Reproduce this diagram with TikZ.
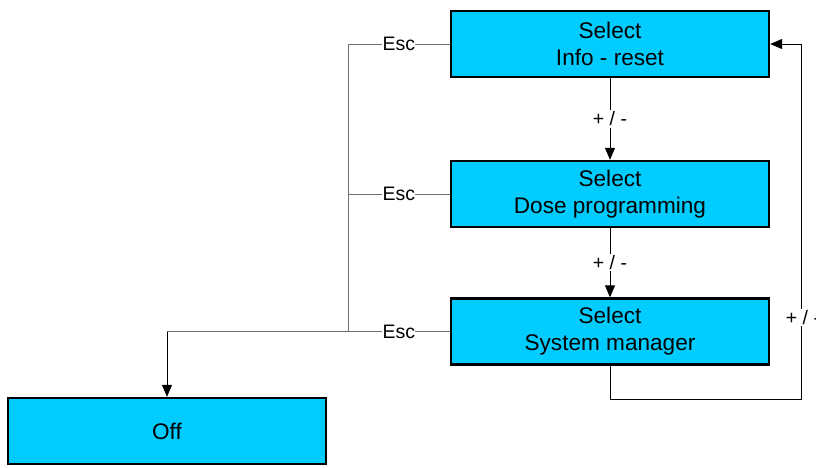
\documentclass[tikz,border=0pt]{standalone}
\usepackage{fontspec}
\setmainfont{Liberation Sans}
\usetikzlibrary{arrows.meta}
\definecolor{boxcyan}{HTML}{00CCFF}
\definecolor{linegray}{HTML}{707070}
\begin{document}
\begin{tikzpicture}[x=1pt,y=-1pt,
  box/.style={draw=black,line width=2.4pt,fill=boxcyan,minimum width=318pt,minimum height=66pt,
    align=center,inner sep=0pt,font=\fontsize{22.6}{27}\selectfont},
  lbl/.style={fill=white,inner sep=1.5pt,font=\fontsize{19.5}{22}\selectfont},
  esclbl/.style={fill=white,inner xsep=0.3pt,inner ysep=1.5pt,font=\fontsize{19.5}{22}\selectfont},
  conn/.style={draw=black,line width=1pt},
  esc/.style={draw=linegray,line width=1pt},
  arr/.style={-{Triangle[length=12pt,width=10pt]}}]
\useasboundingbox (0,0) rectangle (816,467);
\node[box] (info) at (610,44) {Select\\Info - reset};
\node[box] (dose) at (610,194) {Select\\Dose programming};
\node[box] (sys) at (610,331.5) {Select\\System manager};
\node[box] (off) at (167,431) {Off};
% + / - arrows
\draw[conn,arr] (info.south) -- node[lbl,pos=0.5]{+ / -} (dose.north);
\draw[conn,arr] (dose.south) -- node[lbl,pos=0.5]{+ / -} (sys.north);
% loop back
\coordinate (l1) at (610,399);
\coordinate (l2) at (801,399);
\coordinate (l3) at (801,44);
\draw[conn,arr] (sys.south) -- (l1) -- (l2) -- node[lbl,pos=0.23,xshift=2pt]{+ / -} (l3) -- (info.east);
% Esc lines
\coordinate (e1) at (348,44);
\coordinate (e2) at (348,194);
\coordinate (e3) at (348,331.5);
\coordinate (e4) at (167,331.5);
\draw[esc] (info.west) -- node[esclbl,pos=0.5]{Esc} (e1) -- (e3);
\draw[esc] (dose.west) -- node[esclbl,pos=0.5]{Esc} (e2);
\draw[esc] (sys.west) -- node[esclbl,pos=0.5]{Esc} (e3) -- (e4);
\draw[conn,arr] (e4) -- (off.north);
\end{tikzpicture}
\end{document}
